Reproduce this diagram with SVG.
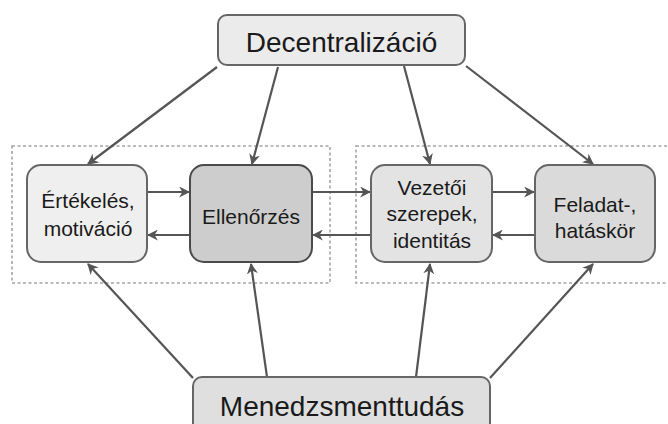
<svg xmlns="http://www.w3.org/2000/svg" width="668" height="424" viewBox="0 0 668 424">
<style>
.node rect{stroke:#666;stroke-width:2}
.lbl{font-family:"Liberation Sans",Arial,sans-serif;fill:#1a1a1a;text-anchor:middle}
.big{font-size:28px}
.sm{font-size:21px}
.grp{fill:none;stroke:#a5a5a5;stroke-width:1.6;stroke-dasharray:3 2.5}
.con line{stroke:#555;stroke-width:2.2;marker-end:url(#ah)}
</style>
<defs>
<marker id="ah" viewBox="0 0 10 10" refX="9" refY="5" markerWidth="5" markerHeight="5" orient="auto" markerUnits="strokeWidth">
<path d="M0,0 L10,5 L0,10 L3,5 Z" fill="#555"/>
</marker>
</defs>
<rect width="668" height="424" fill="#fff"/>
<g id="groups">
<rect class="grp" x="12" y="146" width="318" height="137"/>
<rect class="grp" x="356" y="146" width="320" height="137"/>
</g>
<g class="con" id="connectors">
<line x1="217" y1="67" x2="88" y2="164"/>
<line x1="278" y1="67" x2="252" y2="164"/>
<line x1="404" y1="66" x2="430" y2="164"/>
<line x1="466" y1="66" x2="593" y2="164"/>
<line x1="193" y1="378" x2="88" y2="264"/>
<line x1="267" y1="377" x2="251" y2="264"/>
<line x1="416" y1="377" x2="430" y2="264"/>
<line x1="490" y1="378" x2="593" y2="264"/>
<line x1="148" y1="192" x2="189" y2="192"/>
<line x1="189" y1="235" x2="148" y2="235"/>
<line x1="313" y1="192" x2="370" y2="192"/>
<line x1="370" y1="235" x2="313" y2="235"/>
<line x1="493" y1="192" x2="534" y2="192"/>
<line x1="534" y1="235" x2="493" y2="235"/>
</g>
<g id="decentralizacio" class="node">
<rect x="218" y="15" width="247" height="50" rx="9" fill="#ebebeb"/>
<text class="lbl big" x="341.5" y="52">Decentralizáció</text>
</g>
<g id="menedzsmenttudas" class="node">
<rect x="193" y="377" width="297" height="60" rx="9" fill="#dfdfdf"/>
<text class="lbl big" x="342" y="416">Menedzsmenttudás</text>
</g>
<g id="ertekeles" class="node">
<rect x="27" y="165" width="120" height="97" rx="14" fill="#efefef"/>
<text class="lbl sm" x="88" y="208">Értékelés,</text>
<text class="lbl sm" x="88" y="236">motiváció</text>
</g>
<g id="ellenorzes" class="node">
<rect x="190" y="165" width="122" height="97" rx="14" fill="#cdcdcd" style="stroke:#4a4a4a"/>
<text class="lbl sm" x="251" y="224">Ellenőrzés</text>
</g>
<g id="vezetoi" class="node">
<rect x="371" y="165" width="121" height="97" rx="14" fill="#e3e3e3"/>
<text class="lbl sm" x="432" y="195">Vezetői</text>
<text class="lbl sm" x="432" y="221">szerepek,</text>
<text class="lbl sm" x="432" y="248">identitás</text>
</g>
<g id="feladat" class="node">
<rect x="535" y="165" width="120" height="97" rx="14" fill="#dadada"/>
<text class="lbl sm" x="595" y="212">Feladat-,</text>
<text class="lbl sm" x="595" y="238">hatáskör</text>
</g>
</svg>
